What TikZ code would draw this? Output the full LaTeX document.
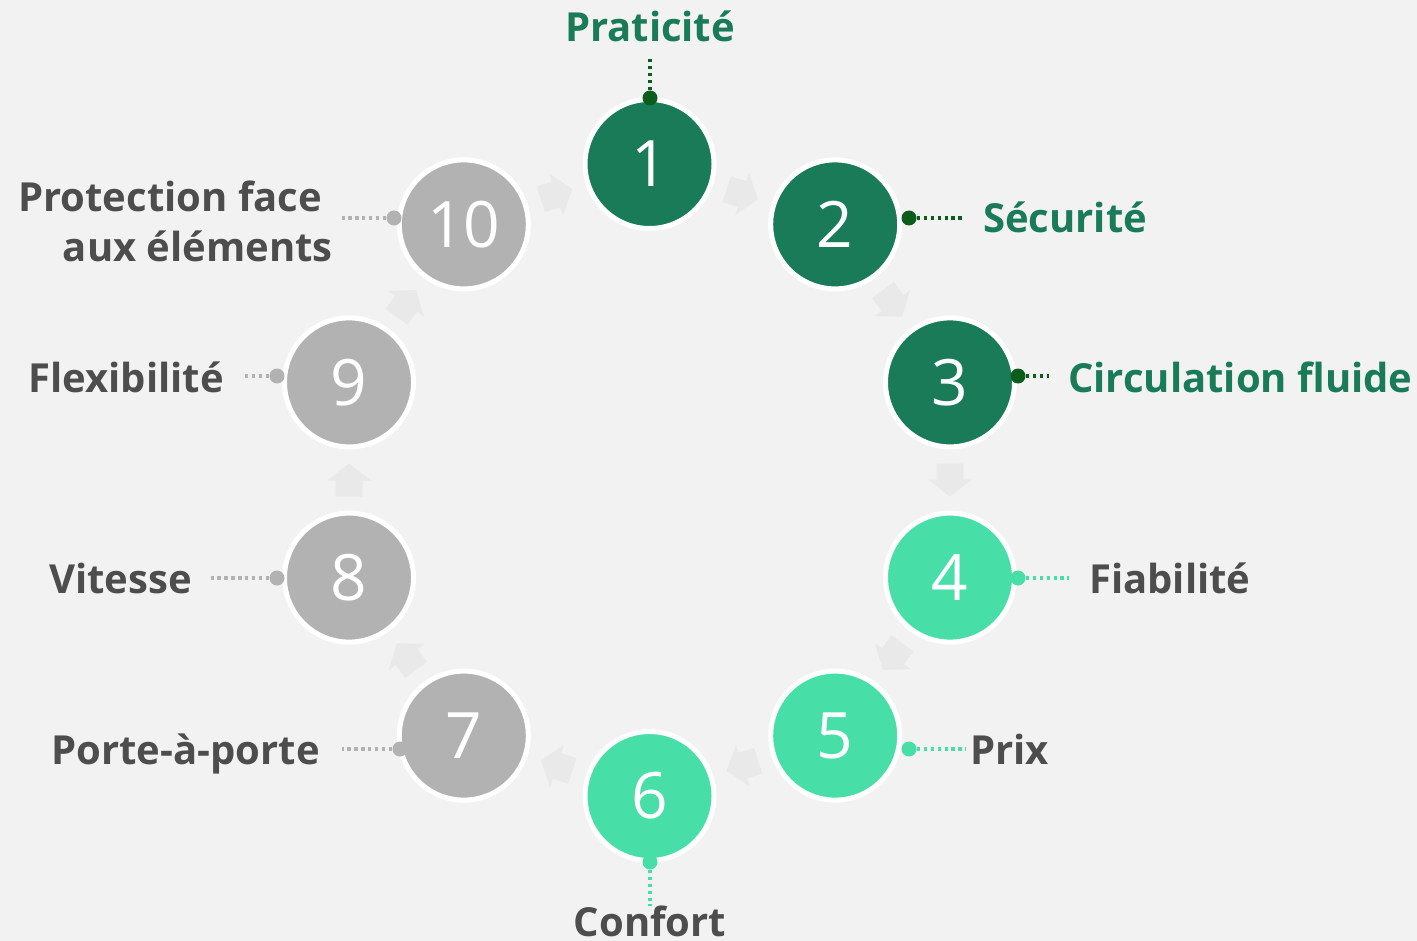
\documentclass[tikz,border=0pt]{standalone}
\usepackage{fontspec}
\setmainfont{Open Sans}
\definecolor{bgc}{RGB}{242,242,242}
\definecolor{arrowc}{RGB}{233,233,233}
\definecolor{dkgreen}{RGB}{26,123,88}
\definecolor{dotgreen}{RGB}{12,92,28}
\definecolor{ltgreen}{RGB}{72,222,168}
\definecolor{greyc}{RGB}{178,178,178}
\definecolor{textgrey}{RGB}{77,77,77}
\newcommand{\cyclearrow}[3]{\fill[arrowc,shift={(#1,#2)},rotate=#3] (-16.5,-13.5) -- (-0.5,-13.5) -- (-0.5,-22) -- (16.5,0) -- (-0.5,22) -- (-0.5,13.5) -- (-16.5,13.5) -- cycle ;}

\begin{document}
\begin{tikzpicture}[x=0.75pt,y=0.75pt,yscale=-1,xscale=1,
  numcirc/.style={circle,draw=white,line width=3.75pt,minimum size=96.75pt,inner sep=0pt,text=white,font=\fontsize{48}{48}\selectfont},
  linkdot/.style={circle,inner sep=0pt,minimum size=11.25pt},
  linkline/.style={line width=3pt,dash pattern=on 2.6pt off 2.6pt},
  lbl/.style={inner sep=0pt,font=\fontsize{30}{37.5}\selectfont\bfseries}]
%set diagram size
\fill[bgc] (0,0) rectangle (1417,941);
\useasboundingbox (0,0) rectangle (1417,941);

%Shape: Arrows between steps
\cyclearrow{742.4}{194.2}{18}
\cyclearrow{892.6}{303.4}{54}
\cyclearrow{950}{480}{90}
\cyclearrow{892.6}{656.6}{126}
\cyclearrow{742.4}{765.8}{162}
\cyclearrow{556.6}{765.8}{198}
\cyclearrow{406.4}{656.6}{234}
\cyclearrow{349}{480}{270}
\cyclearrow{406.4}{303.4}{306}
\cyclearrow{556.6}{194.2}{342}

%Shape: Circles
\node[numcirc,fill=dkgreen] (c1) at (649.5,164) {1};
\node[numcirc,fill=dkgreen] (c2) at (835.2,224.4) {2};
\node[numcirc,fill=dkgreen] (c3) at (950,382.4) {3};
\node[numcirc,fill=ltgreen] (c4) at (950,577.6) {4};
\node[numcirc,fill=ltgreen] (c5) at (835.2,735.6) {5};
\node[numcirc,fill=ltgreen] (c6) at (649.5,796) {6};
\node[numcirc,fill=greyc] (c7) at (463.8,735.6) {7};
\node[numcirc,fill=greyc] (c8) at (349,577.6) {8};
\node[numcirc,fill=greyc] (c9) at (349,382.4) {9};
\node[numcirc,fill=greyc] (c10) at (463.8,224.4) {10};

%Shape: Link dots
\node[linkdot,fill=dotgreen] (d1) at (650,98) {};
\node[linkdot,fill=dotgreen] (d2) at (909,218) {};
\node[linkdot,fill=dotgreen] (d3) at (1018,376) {};
\node[linkdot,fill=ltgreen] (d4) at (1018,578) {};
\node[linkdot,fill=ltgreen] (d5) at (909,749) {};
\node[linkdot,fill=ltgreen] (d6) at (650,862) {};
\node[linkdot,fill=greyc] (d7) at (400,749) {};
\node[linkdot,fill=greyc] (d8) at (277,578) {};
\node[linkdot,fill=greyc] (d9) at (277,376) {};
\node[linkdot,fill=greyc] (d10) at (394,218) {};

\coordinate (e1) at (650,57);
\coordinate (e2) at (964,218);
\coordinate (e3) at (1049,376);
\coordinate (e4) at (1069,578);
\coordinate (e5) at (966,749);
\coordinate (e6) at (650,906);
\coordinate (e7) at (342,749);
\coordinate (e8) at (211,578);
\coordinate (e9) at (242,376);
\coordinate (e10) at (342,218);

%Dotted links
\draw[linkline,dotgreen] (d1) -- (e1);
\draw[linkline,dotgreen] (d2) -- (e2);
\draw[linkline,dotgreen] (d3) -- (e3);
\draw[linkline,ltgreen] (d4) -- (e4);
\draw[linkline,ltgreen] (d5) -- (e5);
\draw[linkline,ltgreen] (d6) -- (e6);
\draw[linkline,greyc] (d7) -- (e7);
\draw[linkline,greyc] (d8) -- (e8);
\draw[linkline,greyc] (d9) -- (e9);
\draw[linkline,greyc] (d10) -- (e10);

% Text Node
\node[lbl,text=dkgreen,anchor=base] (l1) at (650,42) {Praticité};
\node[lbl,text=dkgreen,anchor=base west] (l2) at (983,233) {Sécurité};
\node[lbl,text=dkgreen,anchor=base west] (l3) at (1068,392) {Circulation fluide};
\node[lbl,text=textgrey,anchor=base west] (l4) at (1089,593) {Fiabilité};
\node[lbl,text=textgrey,anchor=base west] (l5) at (970,764) {Prix};
\node[lbl,text=textgrey,anchor=base] (l6) at (650,936) {Confort};
\node[lbl,text=textgrey,anchor=base east] (l7) at (320,764) {Porte-à-porte};
\node[lbl,text=textgrey,anchor=base east] (l8) at (192,593) {Vitesse};
\node[lbl,text=textgrey,anchor=base east] (l9) at (224,392) {Flexibilité};
\node[lbl,text=textgrey,anchor=east,align=right] (l10) at (333,221) {Protection face\hspace*{8pt}\\aux éléments};

\end{tikzpicture}
\end{document}
